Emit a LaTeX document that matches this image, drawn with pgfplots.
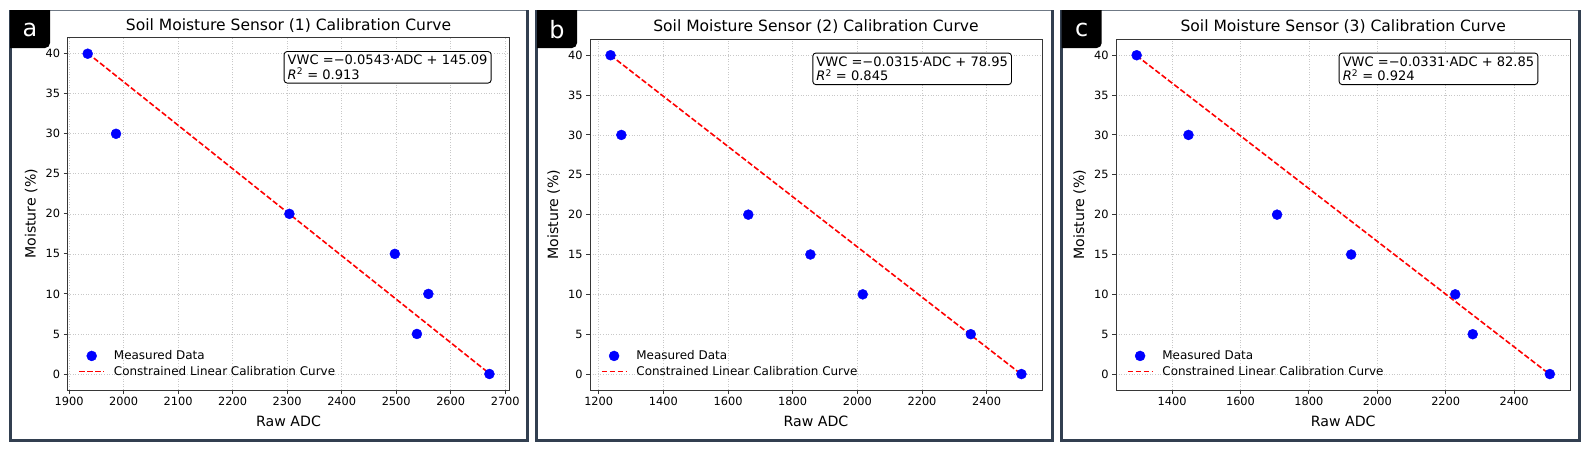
\documentclass[border=0pt]{standalone}
\usepackage{fontspec}
\setmainfont{DejaVu Sans}
\usepackage{pgfplots}
\pgfplotsset{compat=1.18}
\usepackage{pgfplotstable}

\definecolor{framec}{RGB}{50,63,80}
\definecolor{spine}{RGB}{55,55,55}
\definecolor{gridc}{RGB}{200,200,200}

\pgfplotstableread{
x y
1934 40
1986 30
2304 20
2497.5 15
2559 10
2538 5
2671 0
}\dataA
\pgfplotstableread{
x y
1934 40.07
2671 0.055
}\fitA
\pgfplotstableread{
x y
1236.6 40
1270 30
1662.7 20
1854.8 15
2016.7 10
2350.9 5
2507.6 0
}\dataB
\pgfplotstableread{
x y
1236.6 39.997
2507.6 -0.039
}\fitB
\pgfplotstableread{
x y
1296.5 40
1448 30
1707 20
1923.6 15
2227.9 10
2279 5
2504.5 0
}\dataC
\pgfplotstableread{
x y
1296.5 39.936
2504.5 -0.049
}\fitC

\tikzset{annot/.style={draw=black, fill=white, rounded corners=3bp, line width=0.9bp, inner xsep=3.6bp, inner ysep=3.6bp, anchor=north west, align=left, font=\fontsize{13.1}{14.5}\selectfont}}

\pgfplotsset{
  panel/.style={
    scale only axis, anchor=south west,
    ymin=-2, ymax=42, ytick={0,5,...,40},
    grid=major,
    major grid style={gridc, line width=0.7bp, dash pattern=on 1bp off 1.6bp},
    axis line style={spine, line width=0.9bp},
    tick style={spine, line width=0.9bp},
    tick align=outside, major tick length=4bp, tick pos=left,
    ticklabel style={font=\fontsize{11.4}{13}\selectfont},
    /pgf/number format/assume math mode=true,
    /pgf/number format/1000 sep={},
    every axis title/.style={at={(axis description cs:0.5,1)}, anchor=center, yshift=12.3bp, font=\fontsize{15.6}{18}\selectfont},
    every axis x label/.style={at={(axis description cs:0.5,0)}, anchor=center, yshift=-31bp, font=\fontsize{14.2}{16}\selectfont},
    every axis y label/.style={at={(axis description cs:0,0.5)}, xshift=-36.4bp, anchor=center, rotate=90, font=\fontsize{14.2}{16}\selectfont},
    xlabel={Raw ADC}, ylabel={Moisture (\%)},
    legend cell align=left,
    legend style={draw=none, fill=none, at={(axis description cs:0,0)}, anchor=south west,
      xshift=10.8bp, yshift=13bp, font=\fontsize{12}{14}\selectfont, inner sep=0pt,
      row sep=5bp, nodes={inner sep=0pt}},
    legend image code/.code={\draw[##1,mark repeat=2,mark phase=2] plot coordinates {(0bp,0bp)(12.3bp,0bp)(24.6bp,0bp)}; \path (33.8bp,0bp);},
  },
  meas/.style={only marks, mark=*, mark size=5bp, mark options={draw=blue, fill=blue}},
  fit/.style={no marks, red, line width=1.6bp, dash pattern=on 5.5bp off 2.4bp},
}

\begin{document}
\begin{tikzpicture}
\path[use as bounding box, fill=white] (0,0) rectangle (1589bp,-450bp);

% panel frames
\foreach \xa/\xb in {10/527.5, 536.7/1052.5, 1061.7/1579.5}{
  \draw[framec!70, line width=1bp] (\xa bp,-10bp) -- (\xb bp,-10bp);
  \draw[framec, line width=3bp] (\xa bp,-10bp) -- (\xa bp,-440bp) -- (\xb bp,-440bp) -- (\xb bp,-10bp);
}

% ---------- panel a ----------
\begin{axis}[panel, at={(67.6bp,-390bp)}, width=441.9bp, height=352.3bp,
  xmin=1897.15, xmax=2707.85, xtick={1900,2000,...,2700},
  title={Soil Moisture Sensor (1) Calibration Curve}]
\addplot[meas] table[x=x,y=y] {\dataA};
\addlegendentry{Measured Data}
\addplot[fit] table[x=x,y=y] {\fitA};
\addlegendentry{Constrained Linear Calibration Curve}
\node[annot] at (axis description cs:0.489,0.962) {VWC =−0.0543·ADC + 145.09\\\textit{R}\textsuperscript{2} = 0.913};
\end{axis}

% ---------- panel b ----------
\begin{axis}[panel, at={(590bp,-390bp)}, width=452bp, height=350.7bp,
  xmin=1173.05, xmax=2571.15, xtick={1200,1400,...,2400},
  title={Soil Moisture Sensor (2) Calibration Curve}]
\addplot[meas] table[x=x,y=y] {\dataB};
\addlegendentry{Measured Data}
\addplot[fit] table[x=x,y=y] {\fitB};
\addlegendentry{Constrained Linear Calibration Curve}
\node[annot] at (axis description cs:0.492,0.962) {VWC =−0.0315·ADC + 78.95\\\textit{R}\textsuperscript{2} = 0.845};
\end{axis}

% ---------- panel c ----------
\begin{axis}[panel, at={(1116bp,-390bp)}, width=454.5bp, height=350.7bp,
  xmin=1236.1, xmax=2564.9, xtick={1400,1600,...,2400},
  title={Soil Moisture Sensor (3) Calibration Curve}]
\addplot[meas] table[x=x,y=y] {\dataC};
\addlegendentry{Measured Data}
\addplot[fit] table[x=x,y=y] {\fitC};
\addlegendentry{Constrained Linear Calibration Curve}
\node[annot] at (axis description cs:0.49,0.962) {VWC =−0.0331·ADC + 82.85\\\textit{R}\textsuperscript{2} = 0.924};
\end{axis}

% panel letters
\foreach \xa/\lab in {10/a, 537/b, 1061.7/c}{
  \fill[black] (\xa bp,-10bp) -- ++(40bp,0) -- ++(0,-33bp) arc[start angle=0, end angle=-90, radius=5bp] -- ++(-35bp,0) -- cycle;
  \node[white, font=\fontsize{24}{26}\selectfont, anchor=center] at ([xshift=20bp]\xa bp,-30bp) {\lab};
}
\end{tikzpicture}
\end{document}
